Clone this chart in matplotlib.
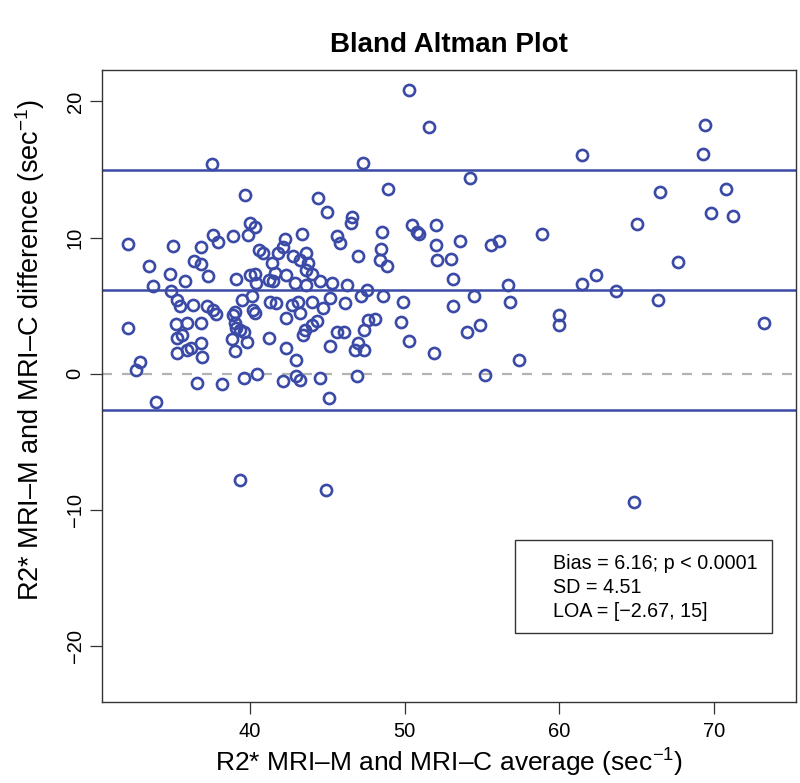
import matplotlib
matplotlib.use("Agg")
import matplotlib.pyplot as plt
from matplotlib.patches import Rectangle

plt.rcParams['font.family'] = ['Liberation Sans', 'DejaVu Sans']
plt.rcParams['mathtext.fontset'] = 'custom'
plt.rcParams['mathtext.rm'] = 'Liberation Sans'
plt.rcParams['mathtext.it'] = 'Liberation Sans'

# averages (x) and differences (y)
avg = [32.1, 32.1, 32.6, 32.9, 33.5, 33.7, 33.95, 34.8, 35.0, 34.9,
       35.25, 35.5, 35.2, 35.6, 35.25, 35.25, 35.8, 35.9, 35.9, 36.2,
       36.3, 36.4, 36.8, 36.8, 36.8, 36.8, 36.9, 36.6, 37.2, 37.3,
       37.55, 37.6, 37.6, 37.8, 37.9, 38.2, 38.9, 39.1, 39.0, 38.9,
       39.0, 39.1, 39.35, 39.6, 38.85, 39.8, 39.0, 39.6, 39.35, 39.5,
       39.7, 39.9, 40.0, 40.3, 40.0, 40.3, 40.4, 40.1, 40.2, 40.3,
       40.45, 40.6, 40.85, 41.2, 41.5, 41.4, 41.6, 41.8, 41.3, 41.7,
       41.2, 42.15, 42.25, 42.3, 42.3, 42.35, 42.15, 42.7, 42.8, 42.9,
       43.0, 43.0, 43.2, 43.1, 43.2, 43.2, 43.35, 43.45, 43.55, 43.6,
       43.65, 43.65, 43.75, 44.0, 44.0, 44.0, 44.3, 44.4, 44.5, 44.5,
       44.75, 44.9, 45.0, 45.1, 45.2, 45.2, 45.3, 45.6, 45.6, 45.8,
       46.1, 46.15, 46.3, 46.6, 46.55, 46.9, 47.0, 47.0, 46.8, 47.4,
       47.2, 47.3, 47.4, 47.55, 47.6, 48.1, 48.4, 48.5, 48.55, 48.6,
       48.85, 48.95, 49.75, 49.9, 50.25, 50.3, 50.45, 50.8, 50.9, 51.6,
       51.9, 52.0, 52.0, 52.1, 53.0, 53.1, 53.1, 53.55, 54.05, 54.2,
       54.45, 54.9, 55.2, 55.6, 56.1, 56.7, 56.8, 57.4, 58.9, 60.0,
       60.0, 61.45, 61.45, 62.4, 63.65, 64.85, 65.0, 66.4, 66.5, 67.65,
       69.3, 69.4, 69.8, 70.8, 71.2, 73.2]
diff = [9.55, 3.4, 0.3, 0.85, 7.9, 6.45, -2.1, 7.3, 9.4, 6.05,
        5.4, 5.0, 3.65, 2.85, 2.6, 1.5, 6.85, 3.7, 1.75, 1.9,
        5.05, 8.25, 8.05, 9.35, 3.7, 2.25, 1.2, -0.7, 4.95, 7.15,
        15.4, 10.2, 4.7, 4.4, 9.65, -0.75, 10.1, 7.0, 4.55, 4.3,
        3.7, 3.35, 3.2, 3.1, 2.55, 2.35, 1.7, -0.3, -7.8, 5.4,
        13.1, 10.2, 11.05, 10.8, 7.25, 7.3, 6.65, 5.7, 4.7, 4.5,
        0.0, 9.1, 8.85, 6.9, 6.8, 8.15, 7.4, 8.85, 5.3, 5.2,
        2.6, 9.35, 9.9, 7.25, 4.1, 1.9, -0.5, 5.05, 8.65, 6.65,
        1.05, -0.15, -0.45, 5.3, 4.45, 8.35, 10.3, 2.85, 3.25, 7.6,
        6.55, 8.85, 8.15, 7.3, 5.3, 3.6, 3.85, 12.9, 6.8, -0.3,
        4.8, -8.5, 11.85, -1.8, 5.55, 2.05, 6.65, 3.1, 10.15, 9.6,
        3.1, 5.2, 6.55, 11.55, 11.1, -0.15, 8.65, 2.25, 1.75, 1.75,
        5.7, 15.45, 3.25, 6.15, 3.95, 4.0, 8.35, 9.2, 10.4, 5.7,
        7.9, 13.6, 3.8, 5.25, 2.4, 20.85, 10.95, 10.45, 10.3, 18.1,
        1.55, 10.95, 9.45, 8.35, 8.45, 7.0, 5.0, 9.75, 3.1, 14.4,
        5.7, 3.6, -0.05, 9.45, 9.75, 6.55, 5.25, 1.05, 10.25, 4.35,
        3.55, 16.1, 6.6, 7.25, 6.1, -9.4, 11.0, 5.45, 13.35, 8.2,
        16.15, 18.3, 11.8, 13.55, 11.6, 3.7]

bias = 6.16
sd = 4.51
loa = [-2.67, 15]
x_ticks = [40, 50, 60, 70]
y_ticks = [-20, -10, 0, 10, 20]

blue = '#3a4aa6'

fig = plt.figure(figsize=(8, 7.83), dpi=100)
# frame: x 102..796 px, y 70..702 px
ax = fig.add_axes([0.1275, 0.1034, 0.8675, 0.807])

ax.plot(avg, diff, linestyle='none', marker='o', markersize=8,
        markerfacecolor='none', markeredgecolor=blue, markeredgewidth=1.9, zorder=3)

ax.axhline(bias, color=blue, lw=1.8, zorder=2)
ax.axhline(loa[0], color=blue, lw=1.8, zorder=2)
ax.axhline(loa[1], color=blue, lw=1.8, zorder=2)
ax.axhline(0, color='#b3b3b3', lw=1.6, linestyle=(0, (4.5, 4.5)), zorder=1)

ax.set_xlim(30.43, 75.3)
ax.set_ylim(-24.1, 22.3)
ax.set_xticks(x_ticks)
ax.set_yticks(y_ticks)
ax.tick_params(direction='out', length=8.5, width=0.9, color='#333333',
               labelsize=14.5)
ax.tick_params(axis='x', pad=6)
ax.tick_params(axis='y', labelrotation=90, pad=4)
plt.setp(ax.get_yticklabels(), va='center')
for s in ax.spines.values():
    s.set_color('#333333')
    s.set_linewidth(1.0)

fig.text(0.561, 1 - 45 / 783, 'Bland Altman Plot', fontsize=20, fontweight='bold',
         ha='center', va='center')
ax.set_xlabel('R2* MRI–M and MRI–C average (sec$^{-1}$)', fontsize=19, labelpad=4)
fig.text(30 / 800, 1 - 350 / 783, 'R2* MRI–M and MRI–C difference (sec$^{-1}$)',
         fontsize=19.5, rotation=90, ha='center', va='center')

# stats box, drawn like R's legend
ax.add_patch(Rectangle((0.595, 0.109), 0.37, 0.147, transform=ax.transAxes,
                       facecolor='white', edgecolor='#333333', lw=1.0, zorder=4))
lines = ['Bias = %.2f; p < 0.0001' % bias,
         'SD = %.2f' % sd,
         'LOA = [\u2212%.2f, %g]' % (-loa[0], loa[1])]
for i, t in enumerate(lines):
    ax.text(0.650, 0.220 - i * 0.038, t, transform=ax.transAxes, fontsize=14.2,
            va='center', ha='left', zorder=5)

fig.savefig('out.png', dpi=100)
